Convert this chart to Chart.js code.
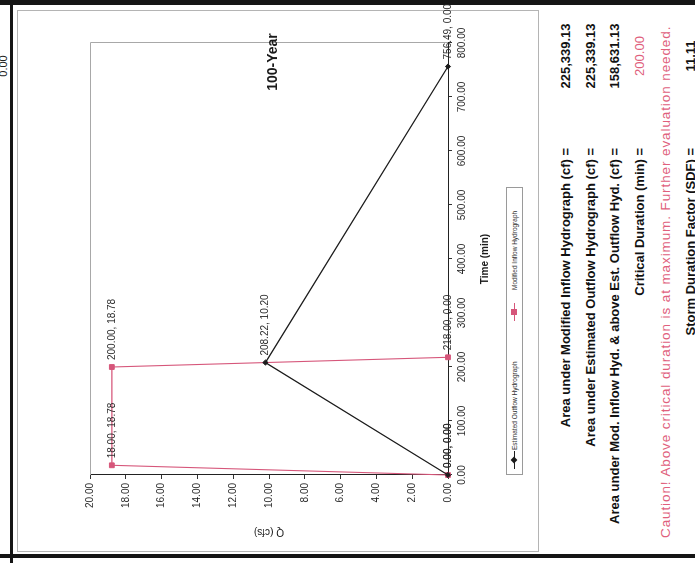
<!DOCTYPE html>
<html>
<head>
<meta charset="utf-8">
<script src="https://cdn.jsdelivr.net/npm/chart.js@4.4.1/dist/chart.umd.min.js"></script>
<style>
  html, body { margin: 0; padding: 0; background: #fff; width: 695px; height: 563px; overflow: hidden; }
  /* The sheet is laid out upright (563 wide, 695 tall) and turned a quarter turn to the left. */
  #page {
    position: absolute; left: 0; top: 0; width: 563px; height: 695px;
    transform-origin: 0 0; transform: translate(0, 563px) rotate(-90deg);
    font-family: "Liberation Sans", Arial, sans-serif; color: #111; background: #fff;
  }
  .rule { position: absolute; background: #151515; }
  #frame { position: absolute; left: 11px; top: 17px; width: 540px; height: 520px; border: 1px solid #b4b4b4; }
  #chart { position: absolute; left: 0; top: 0; }
  #title { position: absolute; left: 451px; top: 263px; width: 100px; text-align: center; font-weight: bold; font-size: 14px; line-height: 18px; color: #1a1a1a; }
  #legend { position: absolute; left: 88px; top: 506px; width: 286px; height: 15px; border: 1px solid #9a9a9a; }
  #legend .sym { position: absolute; top: 7px; width: 18px; height: 1px; }
  #legend .mk { position: absolute; left: 6px; top: -3px; width: 6px; height: 6px; }
  #legend .txt { position: absolute; top: 3px; font-size: 6.5px; line-height: 9px; color: #333; white-space: nowrap; }
  .row { position: absolute; font-size: 13px; line-height: 15px; white-space: nowrap; }
  .lab { left: 0; width: 415px; text-align: right; font-weight: bold; }
  .val { left: 452px; width: 110px; text-align: center; font-weight: bold; }
  .red { color: #e0607c; font-weight: normal; }
  .caution { font-size: 13.5px; letter-spacing: 0.9px; }
  #edge { position: absolute; left: 480px; top: -2px; width: 34px; text-align: center; font-size: 11px; line-height: 11px; color: #222; }
</style>
</head>
<body>
<div id="page">
  <div id="edge">0.00</div>
  <div class="rule" style="left:0;top:10px;width:563px;height:3px"></div>
  <div class="rule" style="left:5px;top:0;width:4px;height:695px"></div>
  <div class="rule" style="left:558px;top:0;width:5px;height:695px"></div>
  <div id="frame"></div>
  <canvas id="chart" width="563" height="500"></canvas>
  <div id="title">100-Year</div>
  <div id="legend"></div>
  <div id="summary"></div>
</div>
<script>
// Hydrograph points: time in minutes, discharge Q in cfs
const outflowTime = [0, 208.22, 756.49];
const outflowQ    = [0, 10.20, 0];
const inflowTime  = [0, 18, 200, 218];
const inflowQ     = [0, 18.78, 18.78, 0];

// Axis ranges and tick spacing
const timeRange = [0, 800];
const timeStep  = 100;
const qRange    = [0, 20];
const qStep     = 2;

// Series names
const seriesNames = ['Estimated Outflow Hydrograph', 'Modified Inflow Hydrograph'];

// Summary rows beneath the chart
const summaryLabels = [
  'Area under Modified Inflow Hydrograph (cf) =',
  'Area under Estimated Outflow Hydrograph (cf) =',
  'Area under Mod. Inflow Hyd. & above Est. Outflow Hyd. (cf) =',
  'Critical Duration (min) =',
  '',
  'Storm Duration Factor (SDF) ='
];
const summaryValues = ['225,339.13', '225,339.13', '158,631.13', '200.00', '', '11.11'];
const cautionText = 'Caution! Above critical duration is at maximum. Further evaluation needed.';

const outflowColor = '#1c1c1c';
const inflowColor = '#d6567a';
const fontFamily = '"Liberation Sans", Arial, sans-serif';
const fmt2 = v => Number(v).toFixed(2);

const toPoints = (xs, ys) => xs.map((x, i) => ({ x: x, y: ys[i] }));

// Gray border on the two open sides of the plot area
const plotBox = {
  id: 'plotBox',
  beforeDatasetsDraw(chart) {
    const { ctx, chartArea: a } = chart;
    ctx.save();
    ctx.strokeStyle = '#a8a8a8';
    ctx.lineWidth = 1;
    ctx.beginPath();
    ctx.moveTo(a.left, a.top + 0.5);
    ctx.lineTo(a.right + 0.5, a.top + 0.5);
    ctx.lineTo(a.right + 0.5, a.bottom);
    ctx.stroke();
    ctx.restore();
  }
};

// "x, y" labels to the right of every point
const pointLabels = {
  id: 'pointLabels',
  afterDatasetsDraw(chart) {
    const { ctx } = chart;
    ctx.save();
    ctx.font = '10px ' + fontFamily;
    ctx.fillStyle = '#2a2a2a';
    ctx.textBaseline = 'middle';
    ctx.textAlign = 'left';
    chart.data.datasets.forEach((ds, di) => {
      const meta = chart.getDatasetMeta(di);
      meta.data.forEach((pt, i) => {
        const d = ds.data[i];
        ctx.fillText(fmt2(d.x) + ', ' + fmt2(d.y), pt.x + 7, pt.y);
      });
    });
    ctx.restore();
  }
};

new Chart(document.getElementById('chart'), {
  type: 'scatter',
  data: {
    datasets: [
      {
        label: seriesNames[0],
        data: toPoints(outflowTime, outflowQ),
        showLine: true,
        borderColor: outflowColor,
        backgroundColor: outflowColor,
        borderWidth: 1.3,
        pointStyle: 'rectRot',
        pointRadius: 2.6,
        pointBorderWidth: 1,
        clip: false
      },
      {
        label: seriesNames[1],
        data: toPoints(inflowTime, inflowQ),
        showLine: true,
        borderColor: inflowColor,
        backgroundColor: inflowColor,
        borderWidth: 1.1,
        pointStyle: 'rect',
        pointRadius: 3.4,
        pointBorderWidth: 1,
        clip: false
      }
    ]
  },
  options: {
    responsive: false,
    animation: false,
    layout: { padding: { left: 0, right: 43, top: 90, bottom: 0 } },
    plugins: { legend: { display: false }, tooltip: { enabled: false } },
    scales: {
      x: {
        type: 'linear',
        min: timeRange[0], max: timeRange[1],
        ticks: { stepSize: timeStep, callback: fmt2, autoSkip: false, maxRotation: 0,
                 padding: 4, color: '#2a2a2a', font: { family: fontFamily, size: 10 } },
        grid: { drawOnChartArea: false, drawTicks: true, tickLength: 4, color: '#333' },
        border: { color: '#222', width: 1 },
        title: { display: true, text: 'Time (min)', color: '#1a1a1a',
                 font: { family: fontFamily, size: 10, weight: 'bold' },
                 padding: { top: 0, bottom: 9 } },
        afterFit(s) { s.height = 52; }
      },
      y: {
        type: 'linear',
        min: qRange[0], max: qRange[1],
        ticks: { stepSize: qStep, callback: fmt2, autoSkip: false,
                 padding: 4, color: '#2a2a2a', font: { family: fontFamily, size: 10 } },
        grid: { drawOnChartArea: false, drawTicks: true, tickLength: 4, color: '#333' },
        border: { color: '#222', width: 1 },
        title: { display: true, text: 'Q (cfs)', color: '#1a1a1a',
                 font: { family: fontFamily, size: 10 },
                 padding: { top: 25, bottom: 0 } },
        afterFit(s) { s.width = 88; }
      }
    }
  },
  plugins: [plotBox, pointLabels]
});

// Legend entries
const legend = document.getElementById('legend');
const legendItems = [
  { name: seriesNames[0], color: outflowColor, diamond: true, symLeft: 5, txtLeft: 24 },
  { name: seriesNames[1], color: inflowColor, diamond: false, symLeft: 153, txtLeft: 184 }
];
legendItems.forEach(it => {
  const sym = document.createElement('div');
  sym.className = 'sym';
  sym.style.left = it.symLeft + 'px';
  sym.style.background = it.color;
  const mk = document.createElement('div');
  mk.className = 'mk';
  mk.style.background = it.color;
  if (it.diamond) { mk.style.transform = 'rotate(45deg) scale(0.8)'; }
  sym.appendChild(mk);
  legend.appendChild(sym);
  const t = document.createElement('div');
  t.className = 'txt';
  t.style.left = it.txtLeft + 'px';
  t.textContent = it.name;
  legend.appendChild(t);
});

// Summary rows
const summary = document.getElementById('summary');
const rowCenters = [565, 590, 614, 639, 665, 690];
summaryLabels.forEach((lab, i) => {
  const top = rowCenters[i] - 7.5;
  if (i === 4) {
    const c = document.createElement('div');
    c.className = 'row red caution';
    c.style.left = '25px';
    c.style.top = top + 'px';
    c.textContent = cautionText;
    summary.appendChild(c);
    return;
  }
  const l = document.createElement('div');
  l.className = 'row lab';
  l.style.top = top + 'px';
  l.textContent = lab;
  summary.appendChild(l);
  const v = document.createElement('div');
  v.className = 'row val' + (i === 3 ? ' red' : '');
  v.style.top = top + 'px';
  v.textContent = summaryValues[i];
  summary.appendChild(v);
});
</script>
</body>
</html>
